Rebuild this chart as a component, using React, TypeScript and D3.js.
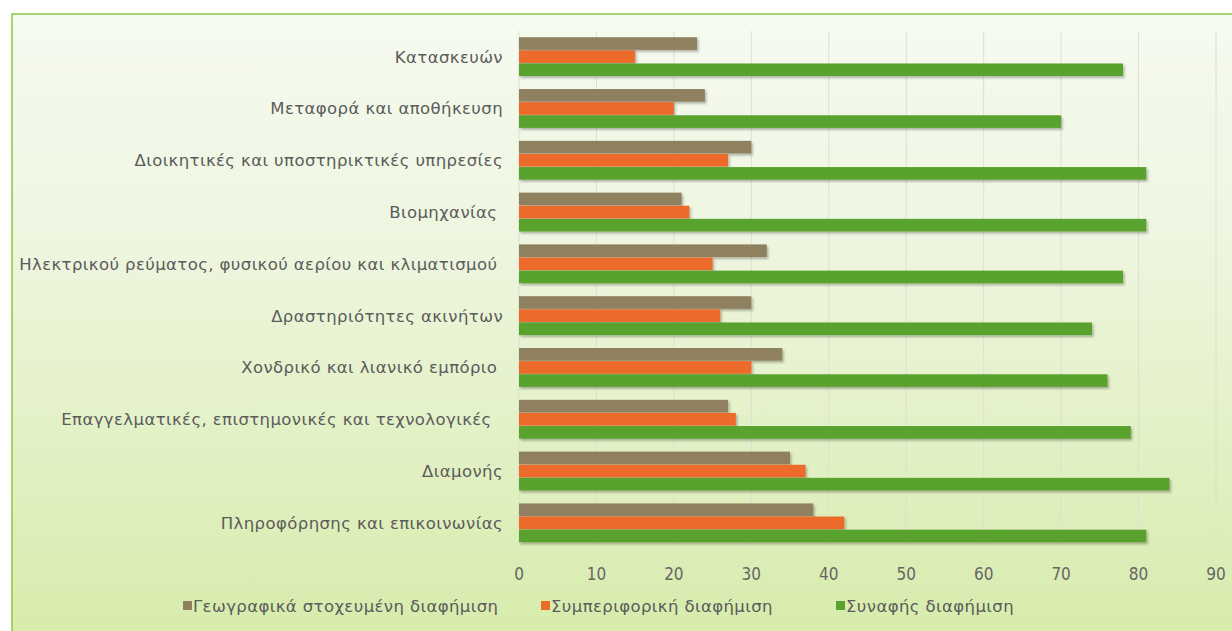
import React from "react";
import * as d3 from "d3";

const categories = [
  "Κατασκευών",
  "Μεταφορά και αποθήκευση",
  "Διοικητικές και υποστηρικτικές υπηρεσίες",
  "Βιομηχανίας ",
  "Ηλεκτρικού ρεύματος, φυσικού αερίου και κλιματισμού ",
  "Δραστηριότητες ακινήτων",
  "Χονδρικό και λιανικό εμπόριο ",
  "Επαγγελματικές, επιστημονικές και τεχνολογικές  ",
  "Διαμονής",
  "Πληροφόρησης και επικοινωνίας",
];
const seriesNames = [
  "Γεωγραφικά στοχευμένη διαφήμιση",
  "Συμπεριφορική διαφήμιση",
  "Συναφής διαφήμιση",
];
const geo = [23, 24, 30, 21, 32, 30, 34, 27, 35, 38];
const behav = [15, 20, 27, 22, 25, 26, 30, 28, 37, 42];
const context = [78, 70, 81, 81, 78, 74, 76, 79, 84, 81];
const ticks = [0, 10, 20, 30, 40, 50, 60, 70, 80, 90];
const colors = ["#8f8160", "#ec6a2a", "#5aa22e"];

export default function App() {
  const W = 1232, H = 631;
  const x0 = 519, x1 = 1216;
  const top = 31, bottom = 549;
  const x = d3.scaleLinear().domain([0, 90]).range([x0, x1]);
  const y = d3.scaleBand().domain(categories).range([top, bottom]).paddingInner(0.24).paddingOuter(0.12);
  const inner = d3.scaleBand().domain(["0", "1", "2"]).range([0, y.bandwidth()]).padding(0);
  const series = [geo, behav, context];
  const labelFont = "'DejaVu Sans', sans-serif";
  const legendX = [183, 541, 836];
  return (
    <svg width={W} height={H} style={{ position: "absolute", left: 0, top: 0 }}>
      <defs>
        <linearGradient id="bg" x1="0" y1="0" x2="0" y2="1">
          <stop offset="0" stopColor="#f6faf0" />
          <stop offset="0.35" stopColor="#eef6e0" />
          <stop offset="1" stopColor="#d6eba9" />
        </linearGradient>
        <filter id="sh" x="-5%" y="-30%" width="110%" height="180%">
          <feDropShadow dx="1.5" dy="2" stdDeviation="1.3" floodColor="#000" floodOpacity="0.28" />
        </filter>
      </defs>
      <rect x={0} y={0} width={W} height={H} fill="#ffffff" />
      <rect x={12} y={14} width={W + 10} height={H + 10} fill="url(#bg)" stroke="#8cc63e" strokeWidth={1.5} />
      {ticks.map((t) => (
        <line key={"g" + t} x1={x(t)} x2={x(t)} y1={top} y2={bottom} stroke="#dde0d3" strokeWidth={1} />
      ))}
      {categories.map((c, i) => (
        <g key={c}>
          {series.map((s, k) => (
            <rect
              key={k}
              x={x(0)}
              y={(y(c) as number) + (inner(String(k)) as number)}
              width={x(s[i]) - x(0)}
              height={inner.bandwidth() - 0.5}
              fill={colors[k]}
              filter="url(#sh)"
            />
          ))}
          <text
            x={503}
            y={(y(c) as number) + y.bandwidth() / 2}
            dy="0.35em"
            textAnchor="end"
            fontFamily={labelFont}
            fontSize={16.5}
            letterSpacing={0.4}
            fill="#5b5b5b"
            style={{ whiteSpace: "pre" }}
          >
            {c}
          </text>
        </g>
      ))}
      {ticks.map((t) => (
        <text
          key={"t" + t}
          x={x(t)}
          y={574}
          dy="0.35em"
          textAnchor="middle"
          fontFamily="'DejaVu Sans Condensed', 'DejaVu Sans', sans-serif"
          fontStretch="condensed"
          fontSize={17}
          fill="#666"
        >
          {t}
        </text>
      ))}
      {seriesNames.map((n, k) => (
        <g key={n}>
          <rect x={legendX[k]} y={601} width={9} height={9} fill={colors[k]} />
          <text x={legendX[k] + 10} y={606} dy="0.35em" fontFamily={labelFont} fontSize={16.5} letterSpacing={0.4} fill="#5b5b5b">
            {n}
          </text>
        </g>
      ))}
    </svg>
  );
}
